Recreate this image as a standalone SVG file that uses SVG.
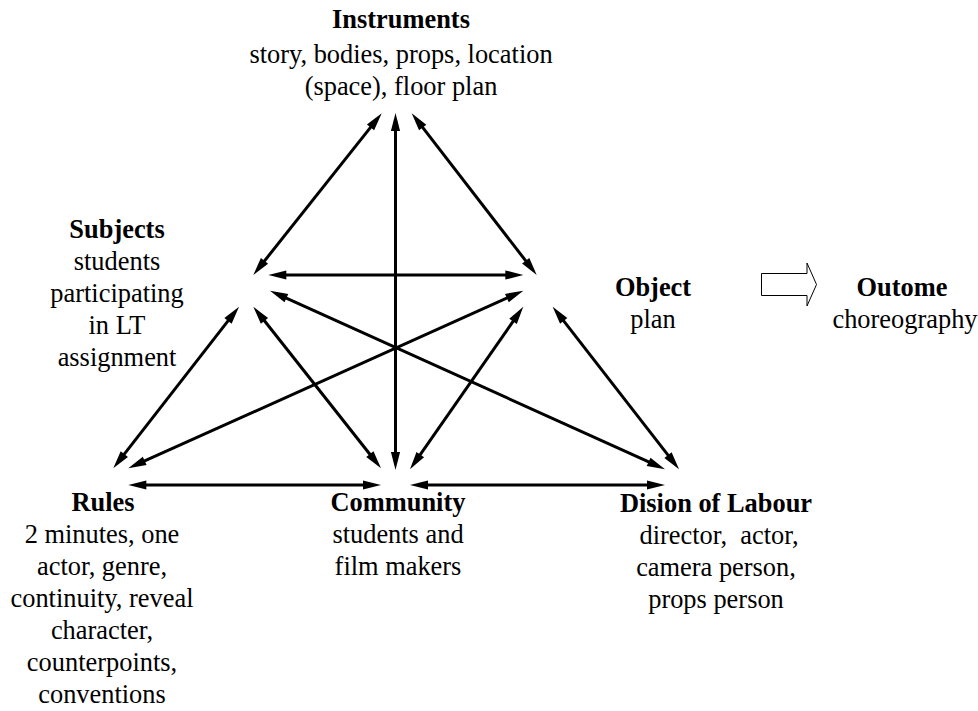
<svg xmlns="http://www.w3.org/2000/svg" width="978" height="711" viewBox="0 0 978 711">
  <style>
    .t { font-size: 26.4px; fill: #000; text-anchor: middle; }
    .h { font-weight: bold; }
    .link { stroke: #000; stroke-width: 3; fill: none; marker-start: url(#tip); marker-end: url(#tip); }
  </style>
  <defs>
    <marker id="tip" markerUnits="userSpaceOnUse" markerWidth="20" markerHeight="10" refX="8" refY="0" orient="auto-start-reverse" overflow="visible">
      <path d="M0,-4.6 L18,0 L0,4.6 z" fill="#000"/>
    </marker>
  </defs>

  <rect width="978" height="711" fill="#fff"/>

  <g class="t" font-family="'Liberation Serif', 'DejaVu Serif', serif">
    <g id="instruments">
      <text class="h" x="401" y="28">Instruments</text>
      <text x="401" y="63">story, bodies, props, location</text>
      <text x="401" y="95">(space), floor plan</text>
    </g>

    <g id="subjects">
      <text class="h" x="117" y="238">Subjects</text>
      <text x="117" y="270">students</text>
      <text x="117" y="302">participating</text>
      <text x="117" y="334">in LT</text>
      <text x="117" y="366">assignment</text>
    </g>

    <g id="object">
      <text class="h" x="653" y="296">Object</text>
      <text x="653" y="328">plan</text>
    </g>

    <g id="outcome">
      <text class="h" x="902" y="296">Outome</text>
      <text x="905" y="328">choreography</text>
    </g>

    <g id="rules">
      <text class="h" x="103" y="511">Rules</text>
      <text x="102" y="543">2 minutes, one</text>
      <text x="102" y="575">actor, genre,</text>
      <text x="102" y="607">continuity, reveal</text>
      <text x="102" y="639">character,</text>
      <text x="102" y="671">counterpoints,</text>
      <text x="102" y="703">conventions</text>
    </g>

    <g id="community">
      <text class="h" x="398" y="511">Community</text>
      <text x="398" y="543">students and</text>
      <text x="398" y="575">film makers</text>
    </g>

    <g id="division-of-labour">
      <text class="h" x="716" y="512">Dision of Labour</text>
      <text x="719" y="544" xml:space="preserve">director,  actor,</text>
      <text x="716" y="576">camera person,</text>
      <text x="716" y="608">props person</text>
    </g>
  </g>

  <g id="connectors">
    <line class="link" x1="375.5" y1="121.1" x2="259.5" y2="267.2"/>
    <line class="link" x1="395.5" y1="123" x2="395.5" y2="460"/>
    <line class="link" x1="417.8" y1="121.2" x2="530.6" y2="267.1"/>
    <line class="link" x1="278.3" y1="275" x2="513.3" y2="275"/>
    <line class="link" x1="279.1" y1="294.8" x2="655.9" y2="465.2"/>
    <line class="link" x1="137.4" y1="464.2" x2="514.2" y2="294.8"/>
    <line class="link" x1="232.9" y1="314.6" x2="119.4" y2="460.4"/>
    <line class="link" x1="259.5" y1="314.5" x2="374.8" y2="460.5"/>
    <line class="link" x1="517.6" y1="314.9" x2="415.7" y2="461.1"/>
    <line class="link" x1="558.8" y1="314.6" x2="672.9" y2="461.4"/>
    <line class="link" x1="138.3" y1="485" x2="371" y2="485"/>
    <line class="link" x1="420" y1="485" x2="655" y2="485"/>
    <!-- hollow block arrow from object to outcome -->
    <polygon points="761.5,273.5 807,273.5 807,263 816.5,284.5 807,306 807,295.5 761.5,295.5" fill="#fff" stroke="#000" stroke-width="1"/>
  </g>
</svg>
